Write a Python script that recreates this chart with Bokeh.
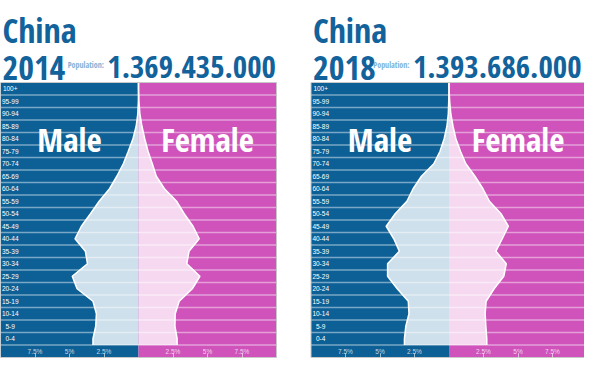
from bokeh.plotting import figure
from bokeh.models import Range1d, LinearAxis, FixedTicker, CustomJSTickFormatter
from bokeh.layouts import row
from bokeh.embed import file_html
from bokeh.resources import INLINE
from bokeh.core.properties import value

# ---------------- data ----------------
age_groups = ["0-4", "5-9", "10-14", "15-19", "20-24", "25-29", "30-34", "35-39",
              "40-44", "45-49", "50-54", "55-59", "60-64", "65-69", "70-74",
              "75-79", "80-84", "85-89", "90-94", "95-99", "100+"]
male_2014 = [3.3, 3.1, 3.05, 3.3, 4.45, 4.8, 3.7, 3.85, 4.6, 4.14, 3.48, 2.85,
             2.1, 1.57, 1.1, 0.74, 0.4, 0.17, 0.05, 0.01, 0.0]
female_2014 = [2.8, 2.64, 2.66, 2.95, 3.9, 4.45, 3.5, 3.66, 4.4, 3.95, 3.31, 2.76,
               1.88, 1.29, 1.0, 0.69, 0.45, 0.25, 0.1, 0.03, 0.0]
male_2018 = [3.23, 3.13, 2.9, 2.95, 3.75, 4.45, 4.45, 3.6, 4.0, 4.55, 3.9, 3.05,
             2.6, 2.0, 1.1, 0.65, 0.35, 0.15, 0.05, 0.02, 0.0]
female_2018 = [2.74, 2.67, 2.62, 2.69, 3.27, 3.97, 4.15, 3.4, 3.86, 4.3, 3.77, 2.93,
               2.46, 1.88, 1.22, 0.83, 0.5, 0.29, 0.13, 0.05, 0.0]
country = "China"
years = ["2014", "2018"]
populations = ["1.369.435.000", "1.393.686.000"]
tick_values = [-7.5, -5, -2.5, 2.5, 5, 7.5]

# ---------------- style ----------------
BLUE = "#0c6096"
TITLE_BLUE = "#12629b"
MAGENTA = "#cf53bb"
LIGHT_BLUE = "#cee0eb"
LIGHT_PINK = "#f6d9f0"
POP_BLUE = "#80b3d6"
COND = value("Open Sans Condensed")
SANS = value("Liberation Sans")

H = 358
PX_PCT = 13.8
PX_ROW = 12.5
PANEL_TOP = 82
N = len(age_groups)
Y1 = N + PANEL_TOP / PX_ROW
Y0 = Y1 - H / PX_ROW


def yd(fig_y):
    return Y1 - fig_y / PX_ROW


def xd(fig_x):
    return -10 + fig_x / PX_PCT


def make_panel(year, pop, male, female, width, lead_px, pop_right_px):
    x0 = -10 - lead_px / PX_PCT
    x1 = x0 + width / PX_PCT
    p = figure(width=width, height=H, x_range=Range1d(x0, x1), y_range=Range1d(Y0, Y1),
               x_axis_type=None, y_axis_type=None, toolbar_location=None,
               output_backend="svg", min_border=0, outline_line_color=None,
               background_fill_color="white", border_fill_color="white")
    # panel backgrounds
    p.quad(left=[-10], right=[0], bottom=[-1], top=[N], fill_color=BLUE, line_color=None)
    p.quad(left=[0], right=[10], bottom=[-1], top=[N], fill_color=MAGENTA, line_color=None)

    yc = [i + 0.5 for i in range(N)]
    ys = [0] + yc + [N]
    mx = [-male[0]] + [-v for v in male] + [-male[-1]]
    fx = [female[0]] + list(female) + [female[-1]]
    zeros = [0] * len(ys)
    p.harea(x1=zeros, x2=mx, y=ys, fill_color=LIGHT_BLUE)
    p.harea(x1=zeros, x2=fx, y=ys, fill_color=LIGHT_PINK)

    # row separators
    rows_y = list(range(N))
    p.segment(x0=[-10] * N, x1=[10] * N, y0=rows_y, y1=rows_y,
              line_color="white", line_alpha=0.45, line_width=1.5)
    p.line(mx, ys, line_color="white", line_width=1.5)
    p.line(fx, ys, line_color="white", line_width=1.5)
    # border
    p.quad(left=[-10], right=[10], bottom=[-1], top=[N], fill_color=None,
           line_color="#c8c8c8", line_width=1)

    # age labels
    p.text(x=[xd(9.7)] * N, y=yc, text=age_groups, text_font=SANS,
           text_font_size="6.5px", text_color="white", text_align="center",
           text_baseline="middle")

    # sex labels
    p.text(x=[-5, 5], y=[yd(138.5)] * 2, text=["Male", "Female"], text_font=COND,
           text_font_style="bold", text_font_size="33px", text_color="white",
           text_align="center", text_baseline="alphabetic")

    # titles
    p.text(x=[xd(1.9)], y=[yd(29.0)], text=[country], text_font=COND,
           text_font_style="bold", text_font_size="34px", text_color=TITLE_BLUE,
           text_align="left", text_baseline="alphabetic")
    p.text(x=[xd(1.9)], y=[yd(67.0)], text=[year], text_font=COND,
           text_font_style="bold", text_font_size="34px", text_color=TITLE_BLUE,
           text_align="left", text_baseline="alphabetic")
    p.text(x=[xd(pop_right_px)], y=[yd(66.0)], text=[pop], text_font=COND,
           text_font_style="bold", text_font_size="31px", text_color=TITLE_BLUE,
           text_align="right", text_baseline="alphabetic")
    p.text(x=[xd(pop_right_px - 172)], y=[yd(64.0)], text=["Population:"], text_font=COND,
           text_font_style="bold", text_font_size="8px", text_color=POP_BLUE,
           text_align="right", text_baseline="alphabetic")

    # percentage axis inside the bottom strip
    ax = LinearAxis(fixed_location=-1, ticker=FixedTicker(ticks=tick_values),
                    formatter=CustomJSTickFormatter(code="return Math.abs(tick) + '%';"),
                    axis_line_color=None, major_tick_in=4, major_tick_out=0,
                    major_tick_line_color="white", major_tick_line_alpha=0.6,
                    minor_tick_line_color=None, major_label_standoff=-10,
                    major_label_text_font="Liberation Sans", major_label_text_font_size="6.5px",
                    major_label_text_color="white", major_label_text_alpha=0.75)
    p.add_layout(ax, "below")
    return p


p1 = make_panel(years[0], populations[0], male_2014, female_2014, 300, 0, 275.4)
p2 = make_panel(years[1], populations[1], male_2018, female_2018, 284, 10.5, 270.5)
layout = row(p1, p2)

open("out.html", "w").write(file_html(layout, INLINE))
